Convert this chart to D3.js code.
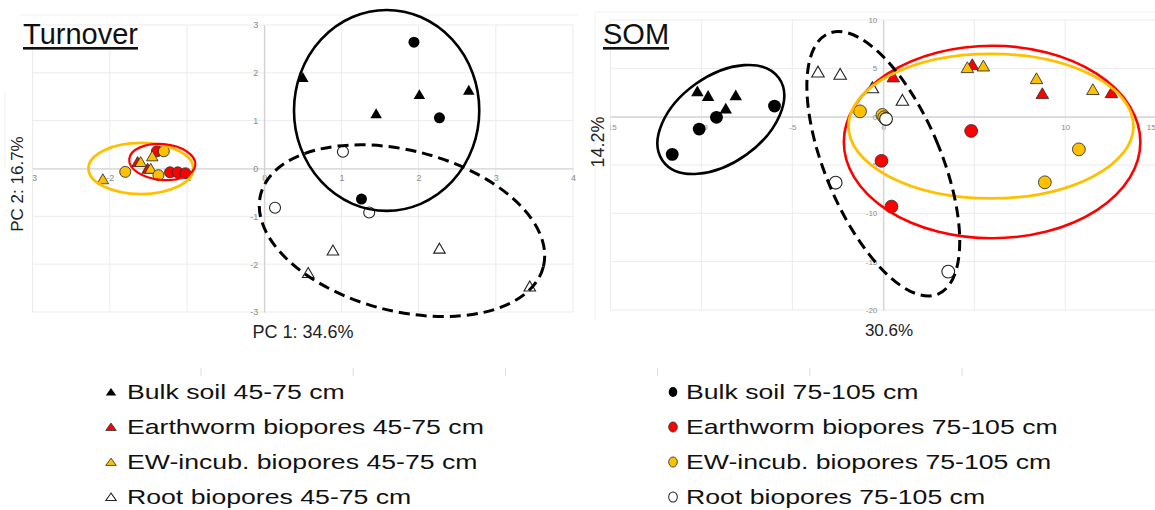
<!DOCTYPE html>
<html>
<head>
<meta charset="utf-8">
<script src="https://cdn.jsdelivr.net/npm/d3@7"></script>
<style>
  body { margin: 0; background: #fff; }
  svg { display: block; }
  text { font-family: "Liberation Sans", Arial, Helvetica, sans-serif; }
</style>
</head>
<body>
<svg id="chart" width="1155" height="510"></svg>
<script>
// ---------- Turnover PCA scores [PC1, PC2] ----------
const turnoverBulk45 = [[0.50, 1.88], [1.45, 1.12], [2.01, 1.52], [2.65, 1.61]];
const turnoverEw45   = [[-1.64, 0.11], [-1.51, -0.03]];
const turnoverInc45  = [[-2.09, -0.25], [-1.60, 0.11], [-1.45, 0.23], [-1.47, -0.03]];
const turnoverRoot45 = [[0.89, -1.74], [0.57, -2.21], [2.27, -1.70], [3.44, -2.49]];
const turnoverBulk75 = [[1.94, 2.64], [2.27, 1.06], [1.26, -0.64]];
const turnoverEw75   = [[-1.39, 0.36], [-1.22, -0.08], [-1.12, -0.08], [-1.02, -0.10]];
const turnoverInc75  = [[-1.80, -0.07], [-1.30, 0.36], [-1.37, -0.14]];
const turnoverRoot75 = [[1.02, 0.35], [0.14, -0.82], [1.36, -0.92]];

// ---------- SOM PCA scores [PC1, PC2] ----------
const somBulk45 = [[-10.22, 2.48], [-9.63, 2.00], [-8.11, 2.07], [-8.66, 0.69]];
const somEw45   = [[0.55, 3.97], [4.89, 5.24], [8.74, 2.24], [12.54, 2.34]];
const somInc45  = [[4.62, 4.93], [5.50, 5.10], [8.42, 3.79], [11.52, 2.66]];
const somRoot45 = [[-3.59, 4.48], [-2.37, 4.24], [-0.60, 2.85], [1.05, 1.55]];
const somBulk75 = [[-5.98, 1.10], [-9.17, -0.07], [-10.12, -1.28], [-11.60, -3.90]];
const somEw75   = [[4.83, -1.48], [-0.10, -4.57], [0.45, -9.30]];
const somInc75  = [[-1.28, 0.55], [-0.05, 0.18], [0.05, -0.06], [10.75, -3.38], [8.88, -6.79]];
const somRoot75 = [[0.15, -0.24], [-2.62, -6.83], [3.57, -16.03]];

// ---------- Group ellipses: [group, centre PC1, centre PC2, radius PC1, radius PC2, tilt deg] ----------
const turnoverEllipses = [
  ["inc", -1.597, 0.0, 0.679, 0.535, 0],
  ["ew", -1.32, 0.135, 0.43, 0.375, 5],
  ["bulk", 1.586, 1.214, 1.20, 2.10, 0],
  ["root", 1.785, -1.30, 1.89, 1.68, 14.4]
];
const somEllipses = [
  ["ew", 5.98, -2.62, 8.15, 9.96, 0],
  ["inc", 5.92, -0.98, 7.83, 7.47, 0],
  ["bulk", -8.93, -0.29, 3.92, 4.50, -35.5],
  ["root", 0.0, -4.87, 3.18, 14.62, -22.8]
];

// ---------- Axis tick values ----------
const turnoverXTicks = [-3, -2, -1, 0, 1, 2, 3, 4];
const turnoverYTicks = [-3, -2, -1, 0, 1, 2, 3];
const somXTicks = [-15, -10, -5, 0, 5, 10, 15];
const somYTicks = [-20, -15, -10, -5, 0, 5, 10];

// ---------- Legend ----------
const legendKeys = ["bulk45", "ew45", "inc45", "root45", "bulk75", "ew75", "inc75", "root75"];
const legendLabels = [
  "Bulk soil 45-75 cm", "Earthworm biopores 45-75 cm", "EW-incub. biopores 45-75 cm", "Root biopores 45-75 cm",
  "Bulk soil 75-105 cm", "Earthworm biopores 75-105 cm", "EW-incub. biopores 75-105 cm", "Root biopores 75-105 cm"
];

// ---------- Styles ----------
const fills = { bulk: "#000000", ew: "#ff0000", inc: "#ffc000", root: "#ffffff" };
const ellipseStyle = {
  bulk: { stroke: "#000", width: 2.6, dash: null },
  root: { stroke: "#000", width: 3, dash: "11,6" },
  ew:   { stroke: "#ff0000", width: 2.6, dash: null },
  inc:  { stroke: "#ffc000", width: 2.8, dash: null }
};

const svg = d3.select("#chart");
const defs = svg.append("defs");

function markerPath(key, circleR, triSide) {
  const isTri = key.endsWith("45");
  const size = isTri ? Math.sqrt(3) / 4 * triSide * triSide : Math.PI * circleR * circleR;
  return d3.symbol().type(isTri ? d3.symbolTriangle : d3.symbolCircle).size(size)();
}
function applyMarkerStyle(sel, key) {
  const grp = key.replace(/\d+$/, "");
  sel.attr("fill", fills[grp])
     .attr("stroke", grp === "bulk" ? "none" : (grp === "root" ? "#222" : "#333"))
     .attr("stroke-width", grp === "root" ? 1.1 : 0.9);
}

function drawPanel(cfg) {
  const g = svg.append("g");
  const x = d3.scaleLinear().domain(cfg.xDomain).range(cfg.xRange);
  const y = d3.scaleLinear().domain(cfg.yDomain).range(cfg.yRange);

  // gridlines
  g.append("g").selectAll("line").data(cfg.xTicks).join("line")
    .attr("x1", d => x(d)).attr("x2", d => x(d))
    .attr("y1", y(cfg.yDomain[1])).attr("y2", y(cfg.yDomain[0]))
    .attr("stroke", "#ebebeb").attr("stroke-width", 1);
  g.append("g").selectAll("line").data(cfg.yTicks).join("line")
    .attr("x1", x(cfg.xDomain[0])).attr("x2", x(cfg.xDomain[1]))
    .attr("y1", d => y(d)).attr("y2", d => y(d))
    .attr("stroke", "#ebebeb").attr("stroke-width", 1);

  // tick labels are clipped to the plotting width
  const clipId = cfg.id + "-clip";
  defs.append("clipPath").attr("id", clipId).append("rect")
    .attr("x", x(cfg.xDomain[0])).attr("y", 0)
    .attr("width", x(cfg.xDomain[1]) - x(cfg.xDomain[0]) + 6).attr("height", 340);

  const axes = g.append("g").attr("clip-path", `url(#${clipId})`);
  const xAxis = axes.append("g")
    .attr("transform", `translate(0,${y(0)})`)
    .call(d3.axisBottom(x).tickValues(cfg.xTicks).tickFormat(d => String(d)).tickSize(0).tickPadding(cfg.xPad));
  const yAxis = axes.append("g")
    .attr("transform", `translate(${x(0)},0)`)
    .call(d3.axisLeft(y).tickValues(cfg.yTicks).tickFormat(d => String(d)).tickSize(0).tickPadding(6));
  [xAxis, yAxis].forEach(a => {
    a.select(".domain").attr("stroke", "#cfcfcf").attr("stroke-width", 1.2);
    a.selectAll("text").attr("fill", "#8a8a8a").attr("font-size", cfg.tickFont)
      .attr("font-family", "'Liberation Sans', Arial, sans-serif");
  });
  // keep the outermost x label inside the page
  xAxis.selectAll(".tick").filter(d => x(d) > 1145).select("text")
    .attr("text-anchor", "end").attr("x", -1);

  // points
  const pts = g.append("g");
  cfg.series.forEach(([key, data]) => {
    pts.append("g").selectAll("path").data(data).join("path")
      .attr("d", markerPath(key, cfg.circleR, cfg.triSide))
      .attr("transform", d => `translate(${x(d[0])},${y(d[1])})`)
      .call(applyMarkerStyle, key);
  });

  // group ellipses
  g.append("g").selectAll("ellipse").data(cfg.ellipses).join("ellipse")
    .attr("cx", d => x(d[1])).attr("cy", d => y(d[2]))
    .attr("rx", d => x(d[1] + d[3]) - x(d[1]))
    .attr("ry", d => y(d[2]) - y(d[2] + d[4]))
    .attr("transform", d => `rotate(${d[5]},${x(d[1])},${y(d[2])})`)
    .attr("fill", "none")
    .attr("stroke", d => ellipseStyle[d[0]].stroke)
    .attr("stroke-width", d => ellipseStyle[d[0]].width * (cfg.ellipseScale[d[0]] || 1))
    .attr("stroke-dasharray", d => ellipseStyle[d[0]].dash);

  // panel title, underlined
  const title = g.append("text").attr("x", cfg.titleX).attr("y", 44)
    .attr("font-size", 29).attr("fill", "#111").text(cfg.title);
  const tw = title.node().getComputedTextLength();
  g.append("rect").attr("x", cfg.titleX).attr("y", 47).attr("width", tw).attr("height", 2.6).attr("fill", "#111");

  // axis titles
  g.append("text").attr("x", cfg.xLabelPos[0]).attr("y", cfg.xLabelPos[1])
    .attr("text-anchor", "middle").attr("font-size", cfg.xLabelSize).attr("fill", "#222").text(cfg.xLabel);
  g.append("text").attr("transform", `translate(${cfg.yLabelPos[0]},${cfg.yLabelPos[1]}) rotate(-90)`)
    .attr("text-anchor", "middle").attr("font-size", cfg.yLabelSize).attr("fill", "#222").text(cfg.yLabel);
}

// faint frame lines around the pasted plots
const frame = svg.append("g").attr("stroke", "#f1f1f1").attr("stroke-width", 1);
frame.append("line").attr("x1", 20).attr("x2", 578).attr("y1", 15).attr("y2", 15);
frame.append("line").attr("x1", 595).attr("x2", 1155).attr("y1", 12).attr("y2", 12);
frame.append("line").attr("x1", 595).attr("x2", 595).attr("y1", 12).attr("y2", 320);
frame.append("line").attr("x1", 5).attr("x2", 5).attr("y1", 92).attr("y2", 168);

drawPanel({
  id: "turnover",
  xDomain: [-3, 4], xRange: [32.6, 573],
  yDomain: [-3, 3], yRange: [312, 25],
  xTicks: turnoverXTicks, yTicks: turnoverYTicks,
  xPad: 6, tickFont: 9,
  circleR: 5.5, triSide: 11.5,
  series: [["ew45", turnoverEw45], ["ew75", turnoverEw75], ["inc45", turnoverInc45], ["inc75", turnoverInc75],
           ["root45", turnoverRoot45], ["root75", turnoverRoot75], ["bulk45", turnoverBulk45], ["bulk75", turnoverBulk75]],
  ellipses: turnoverEllipses, ellipseScale: { ew: 0.85 },
  title: "Turnover", titleX: 23,
  xLabel: "PC 1: 34.6%", xLabelPos: [303, 338], xLabelSize: 18,
  yLabel: "PC 2: 16.7%", yLabelPos: [23, 184], yLabelSize: 17
});

drawPanel({
  id: "som",
  xDomain: [-15, 15], xRange: [610.4, 1156.2],
  yDomain: [-20, 10], yRange: [310, 20],
  xTicks: somXTicks, yTicks: somYTicks,
  xPad: 8, tickFont: 8,
  circleR: 6.4, triSide: 12.5,
  series: [["ew45", somEw45], ["ew75", somEw75], ["inc45", somInc45], ["inc75", somInc75],
           ["root45", somRoot45], ["root75", somRoot75], ["bulk45", somBulk45], ["bulk75", somBulk75]],
  ellipses: somEllipses, ellipseScale: {},
  title: "SOM", titleX: 603,
  xLabel: "30.6%", xLabelPos: [889, 336], xLabelSize: 17,
  yLabel: "14.2%", yLabelPos: [604, 142], yLabelSize: 18
});

// faint tick marks above the legend
svg.append("g").selectAll("line").data(d3.range(6)).join("line")
  .attr("x1", i => 201 + i * 152.2).attr("x2", i => 201 + i * 152.2)
  .attr("y1", 368).attr("y2", 376)
  .attr("stroke", "#dcdcdc").attr("stroke-width", 1);

// legend, two columns of four
const legend = svg.append("g");
legendKeys.forEach((key, i) => {
  const col = Math.floor(i / 4), row = i % 4;
  const baseY = 399 + row * 35;
  const mx = col === 0 ? 111 : 673;
  const tx = col === 0 ? 127 : 686;
  const isTri = key.endsWith("45");
  legend.append("path")
    .attr("d", d3.symbol().type(isTri ? d3.symbolTriangle : d3.symbolCircle)
      .size(isTri ? Math.sqrt(3) / 4 * 100 : Math.PI * 4.8 * 4.8)())
    .attr("transform", `translate(${mx},${baseY - (isTri ? 6 : 7)})${isTri ? " scale(1.05,0.85)" : " scale(0.9,1.05)"}`)
    .call(applyMarkerStyle, key);
  legend.append("text")
    .attr("transform", `translate(${tx},${baseY}) scale(1.3,1)`)
    .attr("font-size", 20.5).attr("fill", "#111").text(legendLabels[i]);
});
</script>
</body>
</html>
